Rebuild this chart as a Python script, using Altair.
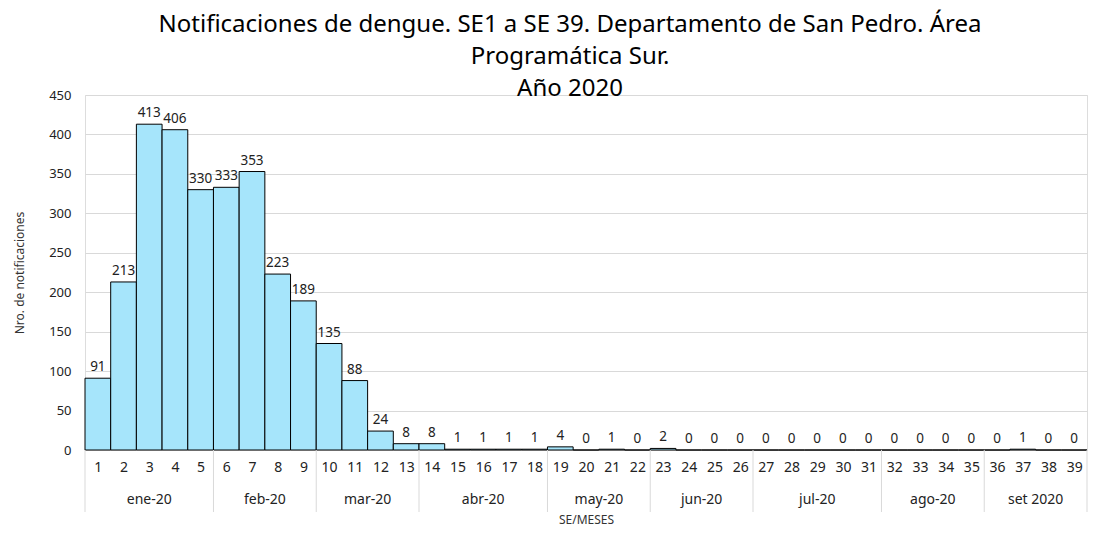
import altair as alt
import pandas as pd

weeks = list(range(1, 40))
values = [91, 213, 413, 406, 330, 333, 353, 223, 189, 135, 88, 24, 8, 8, 1, 1, 1, 1,
          4, 0, 1, 0, 2, 0, 0, 0, 0, 0, 0, 0, 0, 0, 0, 0, 0, 0, 1, 0, 0]
month_labels = ["ene-20", "feb-20", "mar-20", "abr-20", "may-20", "jun-20", "jul-20", "ago-20", "set 2020"]
month_first_week = [1, 6, 10, 14, 19, 23, 27, 32, 36]
month_last_week = [5, 9, 13, 18, 22, 26, 31, 35, 39]
y_ticks = [0, 50, 100, 150, 200, 250, 300, 350, 400, 450]

W = 1002
H = 355
FONT = "Noto Sans"

df = pd.DataFrame({"week": weeks, "value": values})
df["x0"] = df["week"] - 0.5
df["x1"] = df["week"] + 0.5
df["zero"] = 0

mdf = pd.DataFrame({
    "label": month_labels,
    "mid": [(a + b) / 2 for a, b in zip(month_first_week, month_last_week)],
})
bdf = pd.DataFrame({"b": [w - 0.5 for w in month_first_week] + [month_last_week[-1] + 0.5]})

xscale = alt.Scale(domain=[0.5, 39.5], nice=False, zero=False)
yscale = alt.Scale(domain=[0, 450], nice=False)

xaxis = alt.Axis(values=weeks, title="SE/MESES", grid=False, ticks=False,
                 labelFontSize=14, labelFont=FONT, labelColor="#222222",
                 labelPadding=10, domainColor="#d9d9d9", labelFlush=False,
                 labelOverlap=False,
                 titleFont=FONT, titleFontSize=12, titleFontWeight="normal",
                 titleColor="#333333", titlePadding=40)
yaxis = alt.Axis(values=y_ticks, title="Nro. de notificaciones",
                 domain=False, ticks=False, gridColor="#d9d9d9",
                 labelOverlap=False,
                 labelFontSize=13, labelFont=FONT, labelColor="#222222",
                 labelPadding=14, titleFont=FONT, titleFontSize=12,
                 titleFontWeight="normal", titleColor="#333333", titlePadding=22)

bars = alt.Chart(df).mark_bar(color="#A6E5FB", stroke="#000000", strokeWidth=1).encode(
    x=alt.X("x0:Q", scale=xscale, axis=xaxis),
    x2="x1:Q",
    y=alt.Y("value:Q", scale=yscale, axis=yaxis),
    y2="zero:Q",
)

labels = alt.Chart(df).mark_text(baseline="bottom", dy=-4, fontSize=13.5, font=FONT,
                                 color="#222222").encode(
    x=alt.X("week:Q", scale=xscale, axis=xaxis),
    y=alt.Y("value:Q", scale=yscale, axis=yaxis),
    text="value:Q",
)

months = alt.Chart(mdf).mark_text(fontSize=14, font=FONT, color="#222222",
                                  baseline="middle").encode(
    x=alt.X("mid:Q", scale=xscale, axis=xaxis),
    y=alt.value(H + 50),
    text="label:N",
)

seps = alt.Chart(bdf).mark_rule(color="#d9d9d9", strokeWidth=1).encode(
    x=alt.X("b:Q", scale=xscale, axis=xaxis),
    y=alt.value(H),
    y2=alt.value(H + 62),
)

chart = alt.layer(bars, labels, seps, months).properties(
    width=W,
    height=H,
    padding={"left": 5, "top": 5, "right": 0, "bottom": 4},
    title=alt.TitleParams(
        text=["Notificaciones de dengue. SE1 a SE 39. Departamento de San Pedro. Área",
              "Programática Sur.", "Año 2020"],
        font=FONT, fontSize=24, fontWeight="normal", color="#000000",
        lineHeight=32, anchor="middle", offset=-12, dx=-16,
    ),
).configure_view(stroke=None).configure(background="white")

chart.save("out.html", embed_options={"renderer": "svg", "actions": False})
